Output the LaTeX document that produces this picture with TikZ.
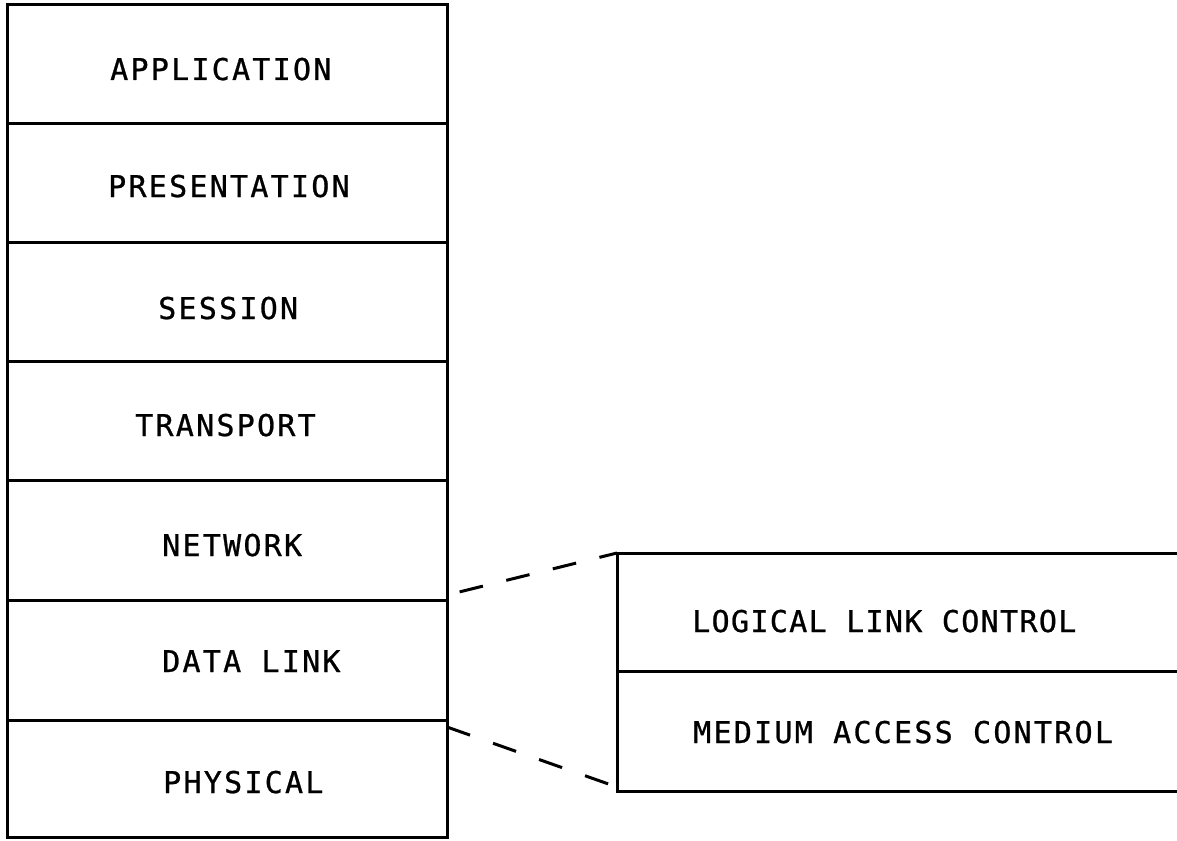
\documentclass[tikz,border=0pt]{standalone}
\usepackage{fontspec}
\newfontfamily\plotfont[LetterSpace=7.5,FakeBold=0.8]{DejaVu Sans Mono}
\newfontfamily\plotfontnarrow[LetterSpace=4.5,FakeBold=0.8]{DejaVu Sans Mono}
\usetikzlibrary{calc}
\begin{document}
\begin{tikzpicture}[x=1pt,y=-1pt,
  layer/.style={draw, line width=3pt, minimum width=440pt, inner sep=0pt, outer sep=0pt},
  sublayer/.style={draw, line width=3pt, minimum width=580pt, minimum height=118pt,
    inner sep=0pt, outer sep=0pt, anchor=north west},
  caption/.style={anchor=base west, inner sep=0pt, font=\plotfont\fontsize{30}{36}\selectfont},
  captionnarrow/.style={caption, font=\plotfontnarrow\fontsize{30}{36}\selectfont},
  link/.style={line width=3pt}]
\clip (0,0) rectangle (1177,840);
\fill[white] (0,0) rectangle (1177,840);

% OSI reference model stack
\node[layer, minimum height=119pt] (app)   at (227, 64.5) {};
\node[layer, minimum height=118pt] (pres)  at (227,183)   {};
\node[layer, minimum height=119pt] (sess)  at (227,301.5) {};
\node[layer, minimum height=119pt] (trans) at (227,420.5) {};
\node[layer, minimum height=120pt] (net)   at (227,540)   {};
\node[layer, minimum height=120pt] (dl)    at (227,660)   {};
\node[layer, minimum height=117pt] (phys)  at (227,778.5) {};

\node[caption] (tapp)   at (110, 80)  {APPLICATION};
\node[caption] (tpres)  at (108,197)  {PRESENTATION};
\node[caption] (tsess)  at (158,319)  {SESSION};
\node[caption] (ttrans) at (135,436)  {TRANSPORT};
\node[caption] (tnet)   at (162,556)  {NETWORK};
\node[caption] (tdl)    at (162,672)  {DATA LINK};
\node[caption] (tphys)  at (163,793)  {PHYSICAL};

% data link sublayers
\node[sublayer] (llc) at (617,553) {};
\node[sublayer, minimum height=120pt] (mac) at (617,671) {};

\node[captionnarrow] (tllc) at (692,632) {LOGICAL LINK CONTROL};
\node[caption] (tmac) at (693,743) {MEDIUM ACCESS CONTROL};

% expansion lines
\coordinate (dltop) at ([yshift=5pt]dl.north east);
\coordinate (dlbot) at ([yshift=-7pt]phys.north east);
\coordinate (subtop) at (llc.north west);
\coordinate (subbot) at ([yshift=4pt]mac.south west);
\draw[link, dash pattern=on 24pt off 24pt, dash phase=35pt] (dltop) -- (subtop);
\draw[link, dash pattern=on 24.4pt off 24.4pt] (dlbot) -- (subbot);
\end{tikzpicture}
\end{document}
